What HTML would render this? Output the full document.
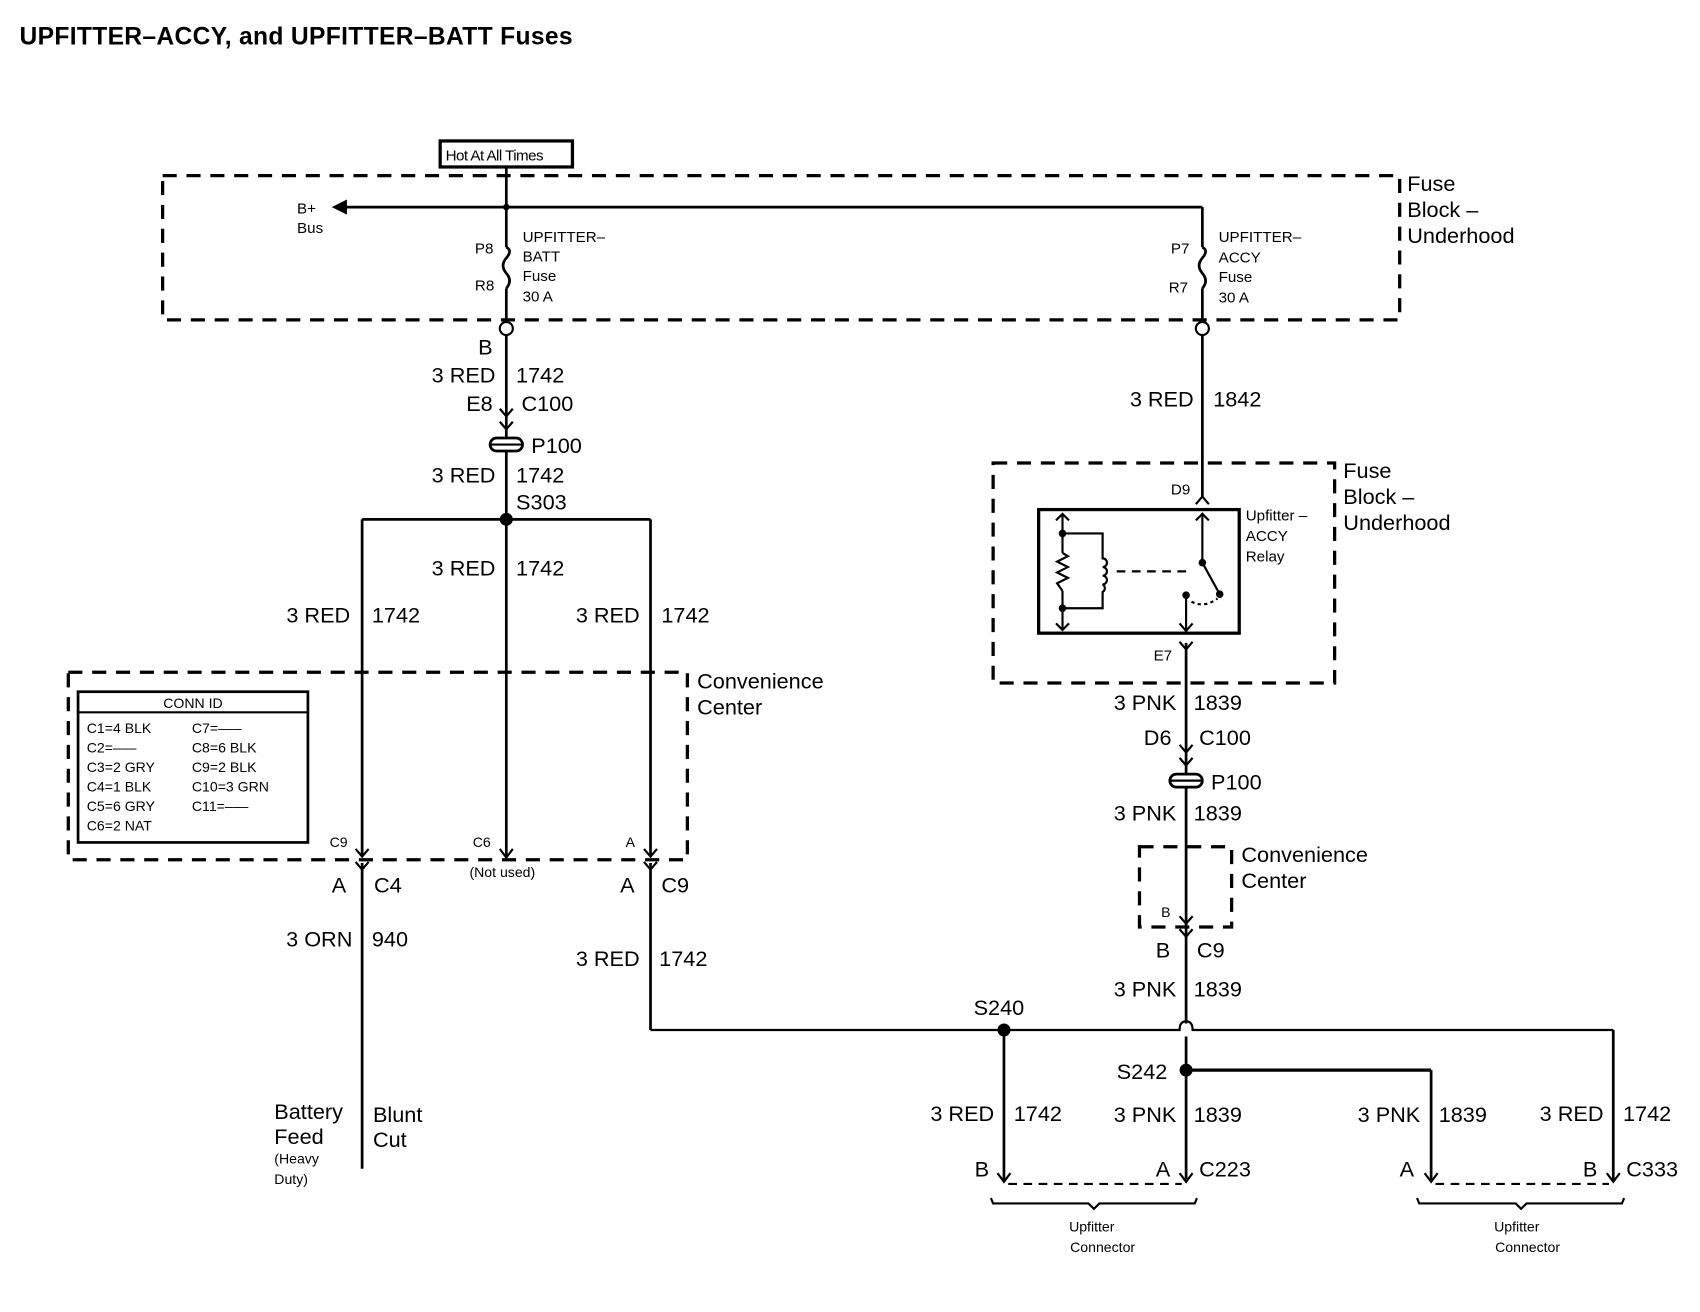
<!DOCTYPE html>
<html><head><meta charset="utf-8"><style>
html,body{margin:0;padding:0;background:#fff}
svg{display:block}
text{font-family:"Liberation Sans",Arial,sans-serif;fill:#000}
.l{font-size:20px}
.s{font-size:14px}
.xs{font-size:13px}
</style></head><body>
<svg width="1700" height="1312" viewBox="0 0 1568 1210.1" preserveAspectRatio="none" xmlns="http://www.w3.org/2000/svg">
<defs>
<g id="conn"><path d="M-6,-7 L0,0 L6,-7" fill="none" stroke="#000" stroke-width="2"/><path d="M-6,5 L0,12 L6,5" fill="none" stroke="#000" stroke-width="2"/></g>
<g id="arr"><path d="M-6,-8 L0,0 L6,-8" fill="none" stroke="#000" stroke-width="2"/></g>
<g id="grom"><rect x="-15" y="-6" width="30" height="12" rx="6" fill="#fff" stroke="#000" stroke-width="2.5"/><line x1="-15" y1="0" x2="15" y2="0" stroke="#000" stroke-width="2"/></g>
</defs>
<text x="18" y="41" style="font-size:22.7px;font-weight:bold;letter-spacing:0.3px">UPFITTER–ACCY, and UPFITTER–BATT Fuses</text>

<rect x="406" y="130" width="122" height="24" fill="#fff" stroke="#000" stroke-width="3"/>
<text x="411" y="148" class="s" style="letter-spacing:-0.5px">Hot At All Times</text>
<rect x="150" y="162" width="1141" height="133" fill="none" stroke="#000" stroke-width="3" stroke-dasharray="13,9"/>
<g stroke="#000" stroke-width="2.5" fill="none">
<line x1="467" y1="154" x2="467" y2="228"/>
<line x1="467" y1="266" x2="467" y2="297"/>
<path d="M467,228 q6,3 0,10 q-6,7 0,14 q6,7 0,14"/>
<line x1="318" y1="191" x2="1109" y2="191"/>
<line x1="1109" y1="191" x2="1109" y2="228"/>
<line x1="1109" y1="266" x2="1109" y2="297"/>
<path d="M1109,228 q6,3 0,10 q-6,7 0,14 q6,7 0,14"/>
</g>
<polygon points="306,191 320,184 320,198" fill="#000"/>
<circle cx="467" cy="191" r="3" fill="#000"/>
<circle cx="467" cy="303" r="6" fill="#fff" stroke="#000" stroke-width="2"/>
<circle cx="1109" cy="303" r="6" fill="#fff" stroke="#000" stroke-width="2"/>
<text x="274" y="197" class="s">B+</text><text x="274" y="215" class="s">Bus</text>
<text x="438" y="234" class="s">P8</text><text x="438" y="268" class="s">R8</text>
<text x="482" y="223" class="s">UPFITTER–</text><text x="482" y="241" class="s">BATT</text><text x="482" y="259" class="s">Fuse</text><text x="482" y="278" class="s">30 A</text>
<text x="1080" y="234" class="s">P7</text><text x="1078" y="270" class="s">R7</text>
<text x="1124" y="223" class="s">UPFITTER–</text><text x="1124" y="242" class="s">ACCY</text><text x="1124" y="260" class="s">Fuse</text><text x="1124" y="279" class="s">30 A</text>
<text x="1298" y="176" class="l">Fuse</text><text x="1298" y="200" class="l">Block –</text><text x="1298" y="224" class="l">Underhood</text>

<g stroke="#000" stroke-width="2.5" fill="none">
<line x1="467" y1="309" x2="467" y2="790"/>
<line x1="334" y1="479" x2="600" y2="479"/>
<line x1="334" y1="479" x2="334" y2="790"/>
<line x1="600" y1="479" x2="600" y2="790"/>
<line x1="334" y1="796" x2="334" y2="1078"/>
<line x1="600" y1="796" x2="600" y2="950"/>
</g>
<use href="#conn" x="467" y="384"/>
<use href="#grom" x="467" y="410"/>
<circle cx="467" cy="479" r="6" fill="#000"/>
<text x="441" y="327" class="l">B</text>
<text x="457" y="353" class="l" text-anchor="end">3 RED</text><text x="476" y="353" class="l">1742</text>
<text x="430" y="379" class="l">E8</text><text x="481" y="379" class="l">C100</text>
<text x="490" y="418" class="l">P100</text>
<text x="457" y="445" class="l" text-anchor="end">3 RED</text><text x="476" y="445" class="l">1742</text>
<text x="476" y="470" class="l">S303</text>
<text x="457" y="531" class="l" text-anchor="end">3 RED</text><text x="476" y="531" class="l">1742</text>
<text x="323" y="574" class="l" text-anchor="end">3 RED</text><text x="343" y="574" class="l">1742</text>
<text x="590" y="574" class="l" text-anchor="end">3 RED</text><text x="610" y="574" class="l">1742</text>

<rect x="63" y="620" width="571" height="173" fill="none" stroke="#000" stroke-width="3" stroke-dasharray="13,9"/>
<text x="643" y="635" class="l">Convenience</text><text x="643" y="659" class="l">Center</text>
<rect x="72" y="638" width="212" height="139" fill="#fff" stroke="#000" stroke-width="2.5"/>
<line x1="72" y1="657" x2="284" y2="657" stroke="#000" stroke-width="2"/>
<text x="178" y="653" class="xs" text-anchor="middle">CONN ID</text>
<text x="80" y="676" class="xs">C1=4 BLK</text><text x="177" y="676" class="xs">C7=–––</text>
<text x="80" y="694" class="xs">C2=–––</text><text x="177" y="694" class="xs">C8=6 BLK</text>
<text x="80" y="712" class="xs">C3=2 GRY</text><text x="177" y="712" class="xs">C9=2 BLK</text>
<text x="80" y="730" class="xs">C4=1 BLK</text><text x="177" y="730" class="xs">C10=3 GRN</text>
<text x="80" y="748" class="xs">C5=6 GRY</text><text x="177" y="748" class="xs">C11=–––</text>
<text x="80" y="766" class="xs">C6=2 NAT</text>
<use href="#conn" x="334" y="790"/>
<use href="#arr" x="467" y="791"/>
<use href="#conn" x="600" y="790"/>
<text x="304" y="781" class="xs">C9</text><text x="436" y="781" class="xs">C6</text><text x="577" y="781" class="xs">A</text>
<text x="433" y="809" class="xs">(Not used)</text>
<text x="306" y="823" class="l">A</text><text x="345" y="823" class="l">C4</text>
<text x="572" y="823" class="l">A</text><text x="610" y="823" class="l">C9</text>
<text x="325" y="873" class="l" text-anchor="end">3 ORN</text><text x="343" y="873" class="l">940</text>
<text x="590" y="891" class="l" text-anchor="end">3 RED</text><text x="608" y="891" class="l">1742</text>
<text x="253" y="1032" class="l">Battery</text><text x="253" y="1055" class="l">Feed</text>
<text x="253" y="1073" class="xs">(Heavy</text><text x="253" y="1092" class="xs">Duty)</text>
<text x="344" y="1035" class="l">Blunt</text><text x="344" y="1058" class="l">Cut</text>

<g stroke="#000" stroke-width="2.5" fill="none">
<line x1="1109" y1="309" x2="1109" y2="458"/>
<line x1="1094" y1="593" x2="1094" y2="944"/>
<line x1="1094" y1="956" x2="1094" y2="1088"/>
<line x1="926" y1="950" x2="926" y2="1088"/>
<line x1="1094" y1="987" x2="1320" y2="987" stroke-width="3"/>
<line x1="1320" y1="987" x2="1320" y2="1088"/>
<line x1="1488" y1="950" x2="1488" y2="1088"/>
</g>
<path d="M600,950 L1088,950 q0,-8 6,-8 q6,0 6,8 L1488,950" fill="none" stroke="#000" stroke-width="2"/>
<text x="1101" y="375" class="l" text-anchor="end">3 RED</text><text x="1119" y="375" class="l">1842</text>
<rect x="916" y="427" width="315" height="203" fill="none" stroke="#000" stroke-width="3" stroke-dasharray="13,9"/>
<text x="1239" y="441" class="l">Fuse</text><text x="1239" y="465" class="l">Block –</text><text x="1239" y="489" class="l">Underhood</text>
<path d="M1103,465 L1109,458 L1115,465" fill="none" stroke="#000" stroke-width="2"/>
<text x="1080" y="456" class="s">D9</text>
<rect x="958" y="470" width="185" height="114" fill="none" stroke="#000" stroke-width="3"/>
<g stroke="#000" stroke-width="2" fill="none">
<line x1="980" y1="474" x2="980" y2="510"/><line x1="980" y1="545" x2="980" y2="581"/>
<path d="M974,480 L980,474 L986,480 M974,575 L980,581 L986,575"/>
<path d="M980,510 l5,3 l-10,5 l10,5 l-10,5 l10,5 l-10,5 l5,7"/>
<path d="M980,492 L1017,492 L1017,515 a4,4 0 0 1 0,8 a4,4 0 0 1 0,8 a4,4 0 0 1 0,8 a4,4 0 0 1 0,7 L1017,561 L980,561"/>
<line x1="1030" y1="527" x2="1100" y2="527" stroke-dasharray="8,6"/>
<line x1="1109" y1="473" x2="1109" y2="519"/>
<path d="M1103,480 L1109,474 L1115,480"/>
<line x1="1109" y1="519" x2="1125" y2="548"/>
<line x1="1094" y1="549" x2="1094" y2="582"/>
<path d="M1088,575 L1094,582 L1100,575"/>
<path d="M1099,555 q12,6 24,-3" stroke-dasharray="3,3"/>
</g>
<circle cx="980" cy="492" r="3.5" fill="#000"/><circle cx="980" cy="561" r="3.5" fill="#000"/>
<circle cx="1109" cy="519" r="3.5" fill="#000"/><circle cx="1125" cy="548" r="3.5" fill="#000"/><circle cx="1094" cy="549" r="3.5" fill="#000"/>
<text x="1149" y="480" class="s">Upfitter –</text><text x="1149" y="499" class="s">ACCY</text><text x="1149" y="518" class="s">Relay</text>
<path d="M1088,592 L1094,599 L1100,592" fill="none" stroke="#000" stroke-width="2"/>
<text x="1064" y="609" class="s">E7</text>
<text x="1085" y="655" class="l" text-anchor="end">3 PNK</text><text x="1101" y="655" class="l">1839</text>
<text x="1055" y="687" class="l">D6</text><text x="1106" y="687" class="l">C100</text>
<use href="#conn" x="1094" y="694"/>
<use href="#grom" x="1094" y="720"/>
<text x="1117" y="728" class="l">P100</text>
<text x="1085" y="757" class="l" text-anchor="end">3 PNK</text><text x="1101" y="757" class="l">1839</text>
<rect x="1051" y="781" width="85" height="74" fill="none" stroke="#000" stroke-width="3" stroke-dasharray="13,9"/>
<text x="1145" y="795" class="l">Convenience</text><text x="1145" y="819" class="l">Center</text>
<text x="1071" y="846" class="xs">B</text>
<use href="#conn" x="1094" y="852"/>
<text x="1066" y="883" class="l">B</text><text x="1104" y="883" class="l">C9</text>
<text x="1085" y="919" class="l" text-anchor="end">3 PNK</text><text x="1101" y="919" class="l">1839</text>
<circle cx="926" cy="950" r="6" fill="#000"/>
<text x="898" y="936" class="l">S240</text>
<circle cx="1094" cy="987" r="6" fill="#000"/>
<text x="1030" y="995" class="l">S242</text>
<text x="917" y="1034" class="l" text-anchor="end">3 RED</text><text x="935" y="1034" class="l">1742</text>
<text x="1085" y="1035" class="l" text-anchor="end">3 PNK</text><text x="1101" y="1035" class="l">1839</text>
<text x="1310" y="1035" class="l" text-anchor="end">3 PNK</text><text x="1327" y="1035" class="l">1839</text>
<text x="1479" y="1034" class="l" text-anchor="end">3 RED</text><text x="1497" y="1034" class="l">1742</text>
<use href="#arr" x="926" y="1090"/><use href="#arr" x="1094" y="1090"/><use href="#arr" x="1320" y="1090"/><use href="#arr" x="1488" y="1090"/>
<text x="899" y="1085" class="l">B</text><text x="1066" y="1085" class="l">A</text><text x="1106" y="1085" class="l">C223</text>
<text x="1291" y="1085" class="l">A</text><text x="1460" y="1085" class="l">B</text><text x="1500" y="1085" class="l">C333</text>
<g stroke="#000" stroke-width="2" fill="none">
<line x1="930" y1="1092" x2="1090" y2="1092" stroke-dasharray="8,6"/>
<line x1="1324" y1="1092" x2="1484" y2="1092" stroke-dasharray="8,6"/>
<path d="M914,1105 l2,5 L1004,1110 l5,5 l5,-5 L1102,1110 l2,-5"/>
<path d="M1307,1105 l2,5 L1398,1110 l5,5 l5,-5 L1496,1110 l2,-5"/>
</g>
<text x="1007" y="1136" class="xs" text-anchor="middle">Upfitter</text><text x="1017" y="1155" class="xs" text-anchor="middle">Connector</text>
<text x="1399" y="1136" class="xs" text-anchor="middle">Upfitter</text><text x="1409" y="1155" class="xs" text-anchor="middle">Connector</text>
</svg>
</body></html>
